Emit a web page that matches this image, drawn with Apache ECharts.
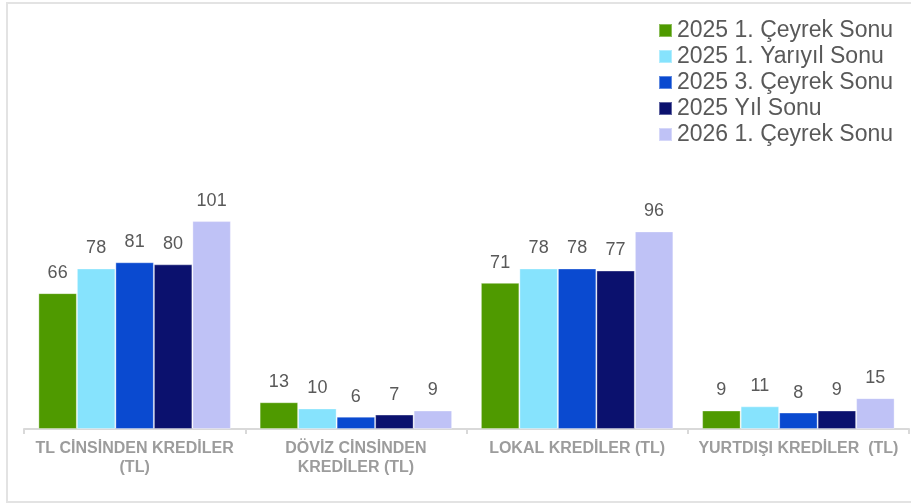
<!DOCTYPE html>
<html>
<head>
<meta charset="utf-8">
<script src="https://cdn.jsdelivr.net/npm/echarts@6/dist/echarts.min.js"></script>
<style>
  html, body { margin: 0; padding: 0; background: #fff; }
  #chart { width: 911px; height: 503px; }
</style>
</head>
<body>
<div id="chart"></div>
<script>
// kategoriler ve seri değerleri
const categories = [
    'TL CİNSİNDEN KREDİLER\n(TL)',
    'DÖVİZ CİNSİNDEN\nKREDİLER (TL)',
    'LOKAL KREDİLER (TL)',
    'YURTDIŞI KREDİLER  (TL)'
];
const seriesNames = [
    '2025 1. Çeyrek Sonu',
    '2025 1. Yarıyıl Sonu',
    '2025 3. Çeyrek Sonu',
    '2025 Yıl Sonu',
    '2026 1. Çeyrek Sonu'
];
const q1_2025 = [66, 13, 71, 9];
const h1_2025 = [78, 10, 78, 11];
const q3_2025 = [81, 6, 78, 8];
const ye_2025 = [80, 7, 77, 9];
const q1_2026 = [101, 9, 96, 15];
const colors = ['#4f9a00', '#86e3fd', '#0a4ad0', '#0b116e', '#bfc2f6'];

const allValues = [q1_2025, h1_2025, q3_2025, ye_2025, q1_2026];

const chart = echarts.init(document.getElementById('chart'));

const option = {
    animation: false,
    textStyle: { fontFamily: 'Liberation Sans, Arial, sans-serif' },
    graphic: [{
        type: 'rect',
        shape: { x: 7, y: 3, width: 920, height: 499 },
        style: { fill: 'none', stroke: '#e3e3e3', lineWidth: 2 },
        silent: true
    }],
    legend: {
        orient: 'vertical',
        left: 658,
        top: 19,
        padding: 0,
        itemWidth: 13,
        itemHeight: 13,
        itemGap: 3,
        icon: 'rect',
        textStyle: { fontSize: 23, color: '#595959', lineHeight: 23 },
        data: seriesNames
    },
    grid: { left: 24, right: 2, top: 182, bottom: 74 },
    xAxis: {
        type: 'category',
        data: categories,
        axisLine: { lineStyle: { color: '#d9d9d9', width: 2 } },
        axisTick: { show: true, length: 5, lineStyle: { color: '#d9d9d9', width: 2 } },
        axisLabel: {
            interval: 0,
            margin: 10,
            fontSize: 16,
            fontWeight: 'bold',
            color: '#9c9c9c',
            lineHeight: 19
        }
    },
    yAxis: {
        type: 'value',
        min: 0,
        max: 120,
        show: false,
        splitLine: { show: false }
    },
    series: seriesNames.map((name, i) => ({
        name: name,
        type: 'bar',
        data: allValues[i],
        barGap: '0%',
        barCategoryGap: '13%',
        itemStyle: { color: colors[i], borderColor: 'rgba(255,255,255,0.35)', borderWidth: 1 },
        label: {
            show: true,
            position: 'top',
            distance: 11,
            fontSize: 18,
            color: '#595959'
        }
    }))
};

chart.setOption(option);
</script>
</body>
</html>
